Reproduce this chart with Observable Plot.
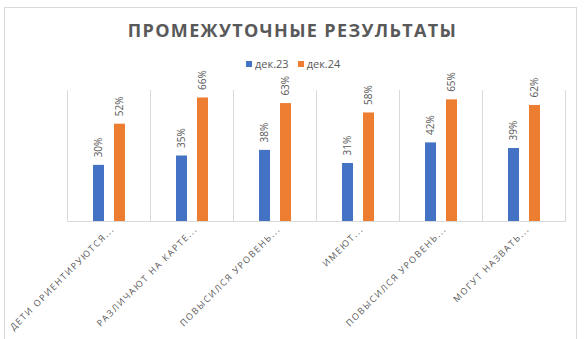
<!DOCTYPE html>
<html>
<head>
<meta charset="utf-8">
<script src="https://cdn.jsdelivr.net/npm/d3@7"></script>
<script src="https://cdn.jsdelivr.net/npm/@observablehq/plot@0.6"></script>
<style>
  html, body { margin: 0; padding: 0; background: #fff; }
  #wrap { position: relative; width: 585px; height: 339px; overflow: hidden; font-family: "Open Sans", sans-serif; }
  #border { position: absolute; left: 4px; top: 7px; width: 573px; height: 345px; border: 1px solid #d9d9d9; box-sizing: border-box; }
  #title { position: absolute; left: 0; top: 18px; width: 585px; text-align: center; font-size: 18px; font-weight: 700; letter-spacing: 1.35px; color: #595959; line-height: 24px; padding-left: 0; box-sizing: border-box; }
  #legend { position: absolute; left: 246px; top: 56px; height: 16px; font-size: 11px; color: #595959; display: flex; align-items: center; line-height: 16px; }
  #legend .item { display: flex; align-items: center; margin-right: 9px; }
  #legend .sw { width: 6px; height: 6px; margin-right: 3px; }
  #chart { position: absolute; left: 0; top: 70px; }
  .rchart g[aria-label*="tick label"] text { letter-spacing: 1.5px; }
</style>
</head>
<body>
<div id="wrap">
  <div id="border"></div>
  <div id="chart"></div>
  <div id="title">ПРОМЕЖУТОЧНЫЕ РЕЗУЛЬТАТЫ</div>
  <div id="legend"></div>
</div>
<script>
const categoryLabels = [
  "ДЕТИ ОРИЕНТИРУЮТСЯ...",
  "РАЗЛИЧАЮТ НА КАРТЕ...",
  "ПОВЫСИЛСЯ УРОВЕНЬ...",
  "ИМЕЮТ...",
  "ПОВЫСИЛСЯ УРОВЕНЬ...",
  "МОГУТ НАЗВАТЬ..."
];
const seriesNames = ["дек.23", "дек.24"];
const dec23 = [0.30, 0.35, 0.38, 0.31, 0.42, 0.39];
const dec24 = [0.52, 0.66, 0.63, 0.58, 0.65, 0.62];
const seriesColors = ["#4472C4", "#ED7D31"];

const rows = [];
categoryLabels.forEach((c, i) => {
  rows.push({i, s: seriesNames[0], v: dec23[i]});
  rows.push({i, s: seriesNames[1], v: dec24[i]});
});

const legend = document.getElementById("legend");
seriesNames.forEach((s, k) => {
  const it = document.createElement("div");
  it.className = "item";
  it.innerHTML = `<span class="sw" style="background:${seriesColors[k]}"></span><span>${s}</span>`;
  legend.appendChild(it);
});

const chart = Plot.plot({
  width: 585,
  height: 269,
  marginTop: 20,
  marginBottom: 118,
  marginLeft: 67,
  marginRight: 20,
  className: "rchart",
  style: {background: "transparent", overflow: "visible", fontFamily: "Open Sans, sans-serif", fontSize: "9px", color: "#595959"},
  fx: {domain: d3.range(categoryLabels.length), padding: 0, axis: null},
  x: {domain: seriesNames, axis: null, paddingInner: 0.48, paddingOuter: 1.16},
  y: {domain: [0, 0.7], axis: null},
  color: {domain: seriesNames, range: seriesColors},
  marks: [
    Plot.frame({anchor: "left", stroke: "#d9d9d9"}),
    Plot.frame({anchor: "right", stroke: "#d9d9d9"}),
    Plot.ruleY([0], {stroke: "#d9d9d9"}),
    Plot.barY(rows, {fx: "i", x: "s", y: "v", fill: "s"}),
    Plot.text(rows, {fx: "i", x: "s", y: "v", text: d => Math.round(d.v * 100) + "%", rotate: -90, textAnchor: "start", dy: -8, fill: "#595959", fontSize: 10}),
    Plot.axisFx({anchor: "bottom", tickRotate: -45, tickSize: 0, tickPadding: 6, dx: 4, tickFormat: i => categoryLabels[i], label: null, fill: "#595959", fontSize: 9})
  ]
});
document.getElementById("chart").appendChild(chart);
</script>
</body>
</html>
